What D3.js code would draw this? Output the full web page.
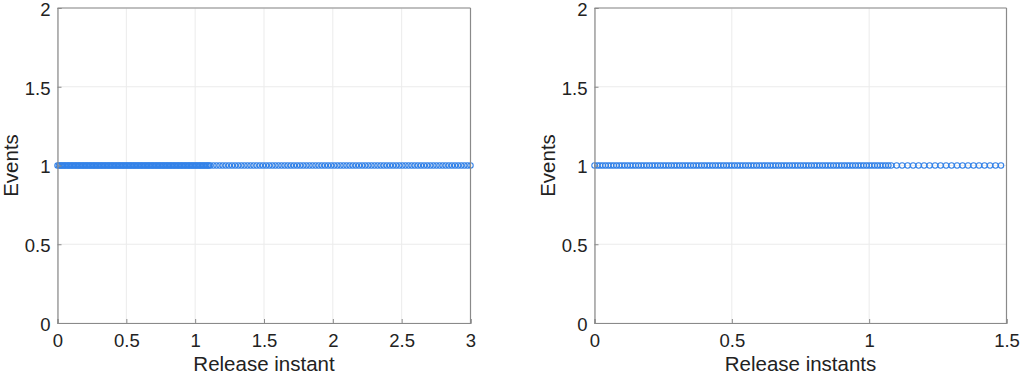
<!DOCTYPE html>
<html>
<head>
<meta charset="utf-8">
<script src="https://cdn.jsdelivr.net/npm/d3@7"></script>
<style>
  html, body { margin: 0; padding: 0; background: #fff; }
  svg { display: block; }
  text { font-family: "Liberation Sans", Arial, Helvetica, sans-serif; }
</style>
</head>
<body>
<svg id="chart" width="1021" height="375"></svg>
<script>
// ---- Data ----
const yTicks = [0, 0.5, 1, 1.5, 2];
const yTickLabels = ["0", "0.5", "1", "1.5", "2"];

// Left panel
const leftXTicks = [0, 0.5, 1, 1.5, 2, 2.5, 3];
const leftXTickLabels = ["0", "0.5", "1", "1.5", "2", "2.5", "3"];
const leftInstantsDense = [
  0,0.01,0.02,0.03,0.04,0.05,0.06,0.07,0.08,0.09,0.1,0.11,0.12,0.13,0.14,0.15,0.16,0.17,0.18,0.19,
  0.2,0.21,0.22,0.23,0.24,0.25,0.26,0.27,0.28,0.29,0.3,0.31,0.32,0.33,0.34,0.35,0.36,0.37,0.38,0.39,
  0.4,0.41,0.42,0.43,0.44,0.45,0.46,0.47,0.48,0.49,0.5,0.51,0.52,0.53,0.54,0.55,0.56,0.57,0.58,0.59,
  0.6,0.61,0.62,0.63,0.64,0.65,0.66,0.67,0.68,0.69,0.7,0.71,0.72,0.73,0.74,0.75,0.76,0.77,0.78,0.79,
  0.8,0.81,0.82,0.83,0.84,0.85,0.86,0.87,0.88,0.89,0.9,0.91,0.92,0.93,0.94,0.95,0.96,0.97,0.98,0.99,
  1.0,1.01,1.02,1.03,1.04,1.05,1.06,1.07,1.08,1.09,1.1
];
const leftInstantsSparse = [
  1.11,1.1325,1.155,1.1775,1.2,1.2225,1.245,1.2675,1.29,1.3125,1.335,1.3575,
  1.38,1.4025,1.425,1.4475,1.47,1.4925,1.515,1.5375,1.56,1.5825,1.605,1.6275,
  1.65,1.6725,1.695,1.7175,1.74,1.7625,1.785,1.8075,1.83,1.8525,1.875,1.8975,
  1.92,1.9425,1.965,1.9875,2.01,2.0325,2.055,2.0775,2.1,2.1225,2.145,2.1675,
  2.19,2.2125,2.235,2.2575,2.28,2.3025,2.325,2.3475,2.37,2.3925,2.415,2.4375,
  2.46,2.4825,2.505,2.5275,2.55,2.5725,2.595,2.6175,2.64,2.6625,2.685,2.7075,
  2.73,2.7525,2.775,2.7975,2.82,2.8425,2.865,2.8875,2.91,2.9325,2.955,2.9775,3.0
];

// Right panel
const rightXTicks = [0, 0.5, 1, 1.5];
const rightXTickLabels = ["0", "0.5", "1", "1.5"];
const rightInstantsDense = [
  0,0.01,0.02,0.03,0.04,0.05,0.06,0.07,0.08,0.09,0.1,0.11,0.12,0.13,0.14,0.15,0.16,0.17,0.18,0.19,
  0.2,0.21,0.22,0.23,0.24,0.25,0.26,0.27,0.28,0.29,0.3,0.31,0.32,0.33,0.34,0.35,0.36,0.37,0.38,0.39,
  0.4,0.41,0.42,0.43,0.44,0.45,0.46,0.47,0.48,0.49,0.5,0.51,0.52,0.53,0.54,0.55,0.56,0.57,0.58,0.59,
  0.6,0.61,0.62,0.63,0.64,0.65,0.66,0.67,0.68,0.69,0.7,0.71,0.72,0.73,0.74,0.75,0.76,0.77,0.78,0.79,
  0.8,0.81,0.82,0.83,0.84,0.85,0.86,0.87,0.88,0.89,0.9,0.91,0.92,0.93,0.94,0.95,0.96,0.97,0.98,0.99,
  1.0,1.01,1.02,1.03,1.04,1.05,1.06,1.07,1.08
];
const rightInstantsSparse = [
  1.1,1.12,1.14,1.16,1.18,1.2,1.22,1.24,1.26,1.28,
  1.3,1.32,1.34,1.36,1.38,1.4,1.42,1.44,1.46,1.48
];
const eventValue = 1;

// ---- Drawing ----
const svg = d3.select("#chart");
const markerColor = "#3382e8";
const axisColor = "#8a8a8a";
const gridColor = "#ebebeb";
const textColor = "#222";

function panel(cfg) {
  const x = d3.scaleLinear().domain(cfg.xDomain).range([cfg.left, cfg.right]);
  const y = d3.scaleLinear().domain([0, 2]).range([323, 8]);
  const g = svg.append("g");

  // grid
  g.append("g").selectAll("line").data(cfg.xTicks).join("line")
    .attr("x1", d => x(d)).attr("x2", d => x(d))
    .attr("y1", y(0)).attr("y2", y(2))
    .attr("stroke", gridColor).attr("stroke-width", 1);
  g.append("g").selectAll("line").data(yTicks).join("line")
    .attr("x1", x(cfg.xDomain[0])).attr("x2", x(cfg.xDomain[1]))
    .attr("y1", d => y(d)).attr("y2", d => y(d))
    .attr("stroke", gridColor).attr("stroke-width", 1);

  // markers
  const pts = cfg.dense.concat(cfg.sparse);
  g.append("g").selectAll("circle").data(pts).join("circle")
    .attr("cx", d => x(d)).attr("cy", y(eventValue)).attr("r", 2.7)
    .attr("fill", "none").attr("stroke", markerColor).attr("stroke-width", 1.1);

  // axes
  const xAxis = d3.axisBottom(x).tickValues(cfg.xTicks)
    .tickFormat((d, i) => cfg.xTickLabels[i]).tickSize(-4).tickPadding(11);
  const gx = g.append("g").attr("transform", `translate(0,${y(0)})`).call(xAxis);
  const yAxis = d3.axisLeft(y).tickValues(yTicks)
    .tickFormat((d, i) => yTickLabels[i]).tickSize(-4).tickPadding(7);
  const gy = g.append("g").attr("transform", `translate(${x(cfg.xDomain[0])},0)`).call(yAxis);
  [gx, gy].forEach(a => {
    a.select(".domain").attr("stroke", axisColor).attr("stroke-width", 1.2);
    a.selectAll(".tick line").attr("stroke", axisColor);
    a.selectAll(".tick text").attr("fill", textColor)
      .style("font-size", "18.5px").style("font-family", "'Liberation Sans', Arial, sans-serif");
  });
  gy.selectAll(".tick text").attr("dy", "0.4em");

  // box top/right
  g.append("line").attr("x1", x(cfg.xDomain[0])).attr("x2", x(cfg.xDomain[1]))
    .attr("y1", y(2)).attr("y2", y(2)).attr("stroke", axisColor).attr("stroke-width", 1.2);
  g.append("line").attr("x1", x(cfg.xDomain[1])).attr("x2", x(cfg.xDomain[1]))
    .attr("y1", y(0)).attr("y2", y(2)).attr("stroke", axisColor).attr("stroke-width", 1.2);

  // labels
  g.append("text").attr("x", (cfg.left + cfg.right) / 2).attr("y", 371)
    .attr("text-anchor", "middle").attr("fill", textColor)
    .style("font-size", "20.5px").text(cfg.xLabel);
  g.append("text")
    .attr("transform", `translate(${cfg.yLabelX},${y(1)}) rotate(-90)`)
    .attr("text-anchor", "middle").attr("fill", textColor)
    .style("font-size", "20.5px").text("Events");
}

panel({
  xDomain: [0, 3], left: 57.5, right: 470.5,
  xTicks: leftXTicks, xTickLabels: leftXTickLabels,
  dense: leftInstantsDense, sparse: leftInstantsSparse,
  xLabel: "Release instant", yLabelX: 18
});
panel({
  xDomain: [0, 1.5], left: 594.5, right: 1006.5,
  xTicks: rightXTicks, xTickLabels: rightXTickLabels,
  dense: rightInstantsDense, sparse: rightInstantsSparse,
  xLabel: "Release instants", yLabelX: 555
});
</script>
</body>
</html>
